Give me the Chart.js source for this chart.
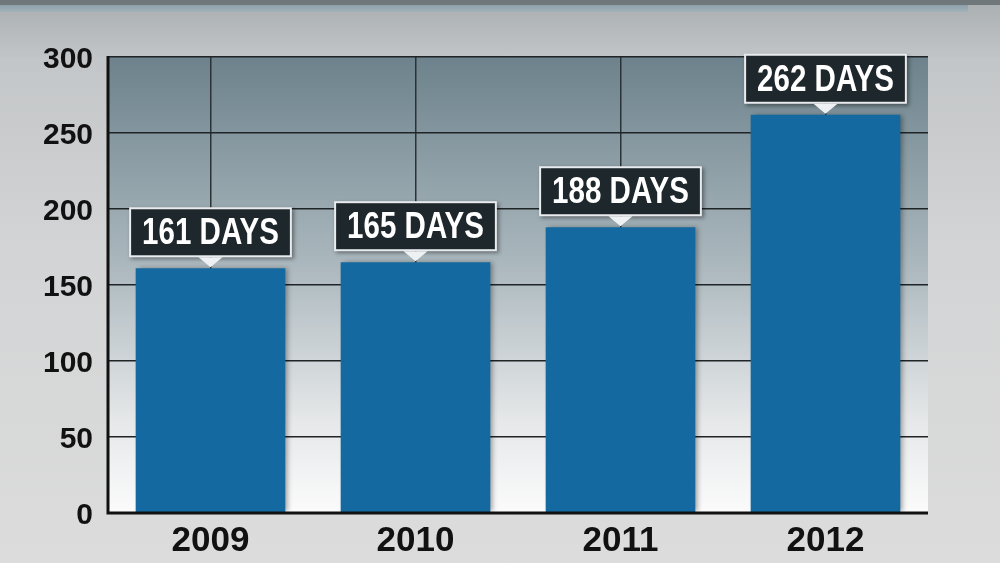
<!DOCTYPE html>
<html>
<head>
<meta charset="utf-8">
<script src="https://cdn.jsdelivr.net/npm/chart.js@4"></script>
<style>
html,body{margin:0;padding:0;width:1000px;height:563px;overflow:hidden;}
body{background:linear-gradient(180deg,#a9aeb1 0px,#c3c6c8 60px,#d3d4d5 250px,#dcdcdc 563px);position:relative;}
#band1{position:absolute;left:0;top:0;width:1000px;height:5px;background:#6f777b;}
#band2{position:absolute;left:0;top:5px;width:968px;height:7px;background:linear-gradient(180deg,#8d9fa9,#a3b3bb);}
#wrap{position:absolute;left:0;top:0;width:1000px;height:563px;}
</style>
</head>
<body>
<div id="band1"></div><div id="band2"></div>
<div id="wrap"><canvas id="c" width="1000" height="563"></canvas></div>
<script>
const categories = ["2009", "2010", "2011", "2012"];
const daysValues = [161, 165, 188, 262];
const valueLabels = ["161 DAYS", "165 DAYS", "188 DAYS", "262 DAYS"];
const yTicks = [0, 50, 100, 150, 200, 250, 300];

const plotBg = {
  id: 'plotBg',
  beforeDraw(chart) {
    const {ctx, chartArea: a} = chart;
    const g = ctx.createLinearGradient(0, a.top, 0, a.bottom);
    g.addColorStop(0, '#6d828c');
    g.addColorStop(0.45, '#aab7bd');
    g.addColorStop(0.8, '#e6e8e9');
    g.addColorStop(1, '#fbfbfb');
    ctx.save();
    ctx.fillStyle = g;
    ctx.fillRect(a.left, a.top, a.right - a.left, a.bottom - a.top);
    ctx.restore();
  }
};

const barShadow = {
  id: 'barShadow',
  beforeDatasetsDraw(chart) {
    const ctx = chart.ctx;
    ctx.save();
    ctx.shadowColor = 'rgba(0,0,0,0.35)';
    ctx.shadowBlur = 5;
    ctx.shadowOffsetX = 3;
    ctx.shadowOffsetY = 0;
  },
  afterDatasetsDraw(chart) {
    chart.ctx.restore();
  }
};

const axisLines = {
  id: 'axisLines',
  afterDatasetsDraw(chart) {
    const {ctx, chartArea: a} = chart;
    ctx.save();
    ctx.strokeStyle = '#111';
    ctx.lineWidth = 3;
    ctx.beginPath();
    ctx.moveTo(a.left, a.top - 1);
    ctx.lineTo(a.left, a.bottom);
    ctx.lineTo(a.right, a.bottom);
    ctx.stroke();
    ctx.restore();
  }
};

const SQUEEZE = 0.82;
const callouts = {
  id: 'callouts',
  afterDatasetsDraw(chart) {
    const ctx = chart.ctx;
    const meta = chart.getDatasetMeta(0);
    ctx.save();
    ctx.font = 'bold 36px "Liberation Sans", sans-serif';
    ctx.textAlign = 'center';
    ctx.textBaseline = 'middle';
    meta.data.forEach((bar, i) => {
      const txt = valueLabels[i];
      const tw = ctx.measureText(txt).width * SQUEEZE;
      const w = tw + 22, h = 46;
      const cx = bar.x;
      const bottom = bar.y - 13;
      const top = bottom - h;
      ctx.save();
      ctx.shadowColor = 'rgba(0,0,0,0.4)';
      ctx.shadowBlur = 4;
      ctx.shadowOffsetX = 2;
      ctx.shadowOffsetY = 2;
      ctx.fillStyle = '#e9ecee';
      ctx.fillRect(cx - w / 2 - 2, top - 2, w + 4, h + 4);
      ctx.restore();
      ctx.fillStyle = '#1e272b';
      ctx.fillRect(cx - w / 2, top, w, h);
      ctx.fillStyle = '#eef1f3';
      ctx.beginPath();
      ctx.moveTo(cx - 12, bottom + 2);
      ctx.lineTo(cx + 12, bottom + 2);
      ctx.lineTo(cx, bar.y - 1);
      ctx.closePath();
      ctx.fill();
      ctx.save();
      ctx.translate(cx, top + h / 2 + 2);
      ctx.scale(SQUEEZE, 1);
      ctx.fillStyle = '#ffffff';
      ctx.fillText(txt, 0, 0);
      ctx.restore();
    });
    ctx.restore();
  }
};

new Chart(document.getElementById('c'), {
  type: 'bar',
  data: {
    labels: categories,
    datasets: [{
      data: daysValues,
      backgroundColor: '#146aa0',
      borderWidth: 0,
      barPercentage: 0.73,
      categoryPercentage: 1.0
    }]
  },
  options: {
    responsive: false,
    animation: false,
    devicePixelRatio: 1,
    layout: { padding: { left: 0, right: 72, top: 57, bottom: 0 } },
    plugins: { legend: { display: false }, tooltip: { enabled: false } },
    scales: {
      x: {
        grid: { offset: false, color: '#2b3236', lineWidth: 1.5, drawTicks: false },
        border: { display: false },
        ticks: {
          color: '#111',
          padding: 7,
          font: { family: '"Liberation Sans", sans-serif', weight: 'bold', size: 35 }
        },
        afterFit(s) { s.height = 50; }
      },
      y: {
        min: 0, max: 300,
        afterBuildTicks(s) { s.ticks = yTicks.map(v => ({ value: v })); },
        grid: { color: '#1f2427', lineWidth: 1.5, drawTicks: false },
        border: { display: false },
        ticks: {
          color: '#111',
          padding: 15,
          labelOffset: 3,
          font: { family: '"Liberation Sans", sans-serif', weight: 'bold', size: 30 }
        },
        afterFit(s) { s.width = 108; }
      }
    }
  },
  plugins: [plotBg, barShadow, axisLines, callouts]
});
</script>
</body>
</html>
